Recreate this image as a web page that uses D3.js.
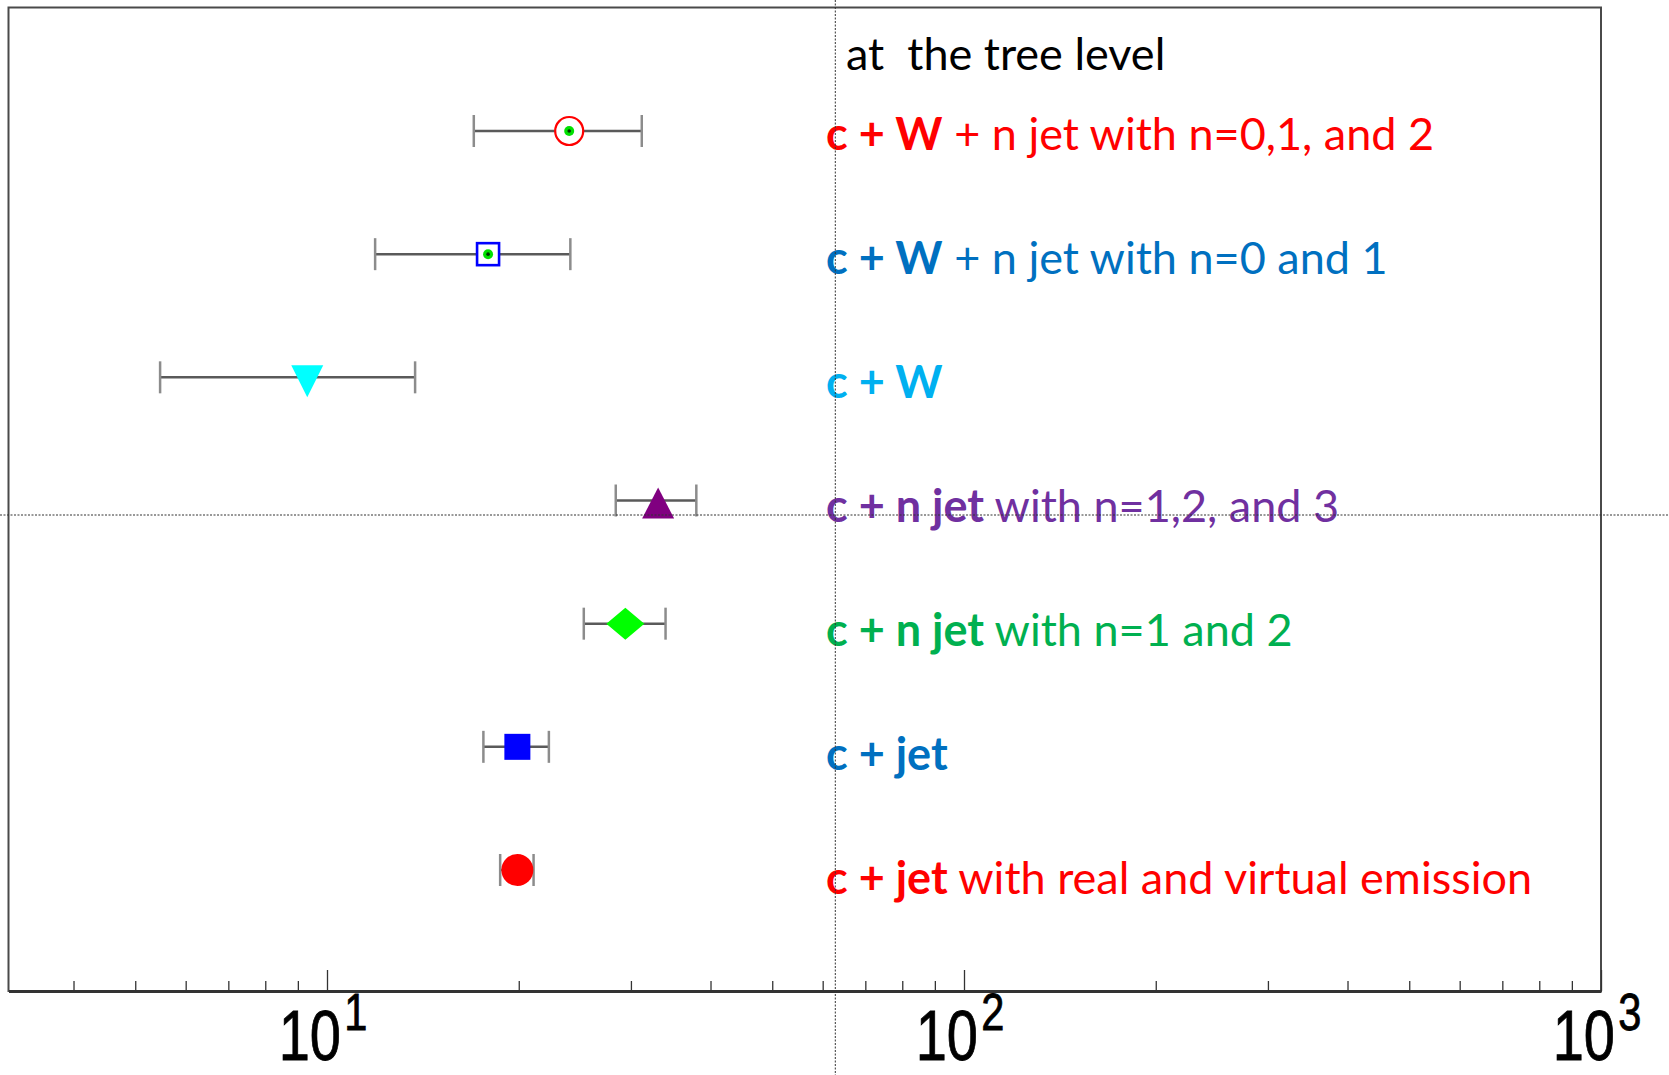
<!DOCTYPE html>
<html>
<head>
<meta charset="utf-8">
<script src="https://cdn.jsdelivr.net/npm/d3@7"></script>
<style>
  html, body { margin: 0; padding: 0; background: #fff; }
  svg { display: block; }
</style>
</head>
<body>
<svg id="chart" width="1669" height="1075"></svg>
<script>
// ---- data ----
const rowKeys = ["cW012", "cW01", "cW", "cn123", "cn12", "cjet", "cjetNLO"];
const centers = [24.0, 17.9, 9.31, 33.1, 29.4, 19.9, 19.9];
const lows    = [17.0, 11.9, 5.47, 28.4, 25.3, 17.6, 18.7];
const highs   = [31.2, 24.1, 13.75, 38.0, 34.0, 22.3, 21.1];
const markerShapes = ["circleOpen", "squareOpen", "triangleDown", "triangleUp", "diamond", "square", "circle"];
const markerColors = ["#ff0000", "#0000ff", "#00ffff", "#800080", "#00ff00", "#0000ff", "#ff0000"];
const labelBold = ["c + W", "c + W", "c + W", "c + n jet", "c + n jet", "c + jet", "c + jet"];
const labelRest = [" + n jet with n=0,1, and 2", " + n jet with n=0 and 1", "", " with n=1,2, and 3", " with n=1 and 2", "", " with real and virtual emission"];
const labelColors = ["#ff0000", "#0070c0", "#00b0f0", "#7030a0", "#00b050", "#0070c0", "#ff0000"];
const headerText = "at  the tree level";
const majorTicks = [10, 100, 1000];
const tickExponents = ["1", "2", "3"];
const minorTicks = [4, 5, 6, 7, 8, 9, 20, 30, 40, 50, 60, 70, 80, 90, 200, 300, 400, 500, 600, 700, 800, 900];
const xDomain = [Math.sqrt(10), 1000];
const crossX = 62.8;

// ---- layout ----
const W = 1669, H = 1075;
const box = { left: 8.5, right: 1601, top: 7.5, bottom: 991 };

const svg = d3.select("#chart");

const x = d3.scaleLog().domain(xDomain).range([box.left, box.right]);
const y = d3.scalePoint().domain(rowKeys).range([131, 870]);
const yLabel = d3.scalePoint().domain(rowKeys).range([150, 894]);

const rows = rowKeys.map((k, i) => ({
  key: k, c: centers[i], lo: lows[i], hi: highs[i],
  shape: markerShapes[i], color: markerColors[i],
  bold: labelBold[i], rest: labelRest[i], tcolor: labelColors[i]
}));

// frame
svg.append("rect")
  .attr("x", box.left).attr("y", box.top)
  .attr("width", box.right - box.left).attr("height", box.bottom - box.top)
  .attr("fill", "none").attr("stroke", "#4a4a4a").attr("stroke-width", 2);

// bottom axis with inward ticks
const allTicks = minorTicks.concat(majorTicks).sort((a, b) => a - b);
const axisG = svg.append("g").attr("transform", `translate(0,${box.bottom})`)
  .call(d3.axisBottom(x).tickValues(allTicks).tickSize(-10).tickSizeOuter(0).tickFormat(""));
axisG.select(".domain").attr("stroke", "#333").attr("stroke-width", 3);
axisG.selectAll(".tick line")
  .attr("stroke", "#333").attr("stroke-width", 1.3)
  .attr("y2", d => majorTicks.includes(d) ? -21 : -10);

// tick labels 10^n
majorTicks.forEach((v, i) => {
  const tx = x(v) - 4;
  const t = svg.append("text")
    .attr("transform", `translate(${tx},1060) scale(0.8,1)`)
    .attr("text-anchor", "middle")
    .attr("font-family", "'Liberation Sans', Arial, sans-serif")
    .attr("fill", "#000").attr("stroke", "#000").attr("stroke-width", 0.8);
  t.append("tspan").attr("font-size", 70).text("10");
  t.append("tspan").attr("font-size", 52).attr("dx", 4).attr("dy", -30).text(tickExponents[i]);
});

// error bars
const bars = svg.append("g");
rows.forEach(r => {
  const yy = y(r.key);
  bars.append("line").attr("x1", x(r.lo)).attr("x2", x(r.hi)).attr("y1", yy).attr("y2", yy)
    .attr("stroke", "#5a5a5a").attr("stroke-width", 2.5);
  [r.lo, r.hi].forEach(v => {
    bars.append("line").attr("x1", x(v)).attr("x2", x(v)).attr("y1", yy - 16).attr("y2", yy + 16)
      .attr("stroke", "#8c8c8c").attr("stroke-width", 2.5);
  });
});

// markers
const marks = svg.append("g");
rows.forEach(r => {
  const cx = x(r.c), cy = y(r.key);
  const g = marks.append("g");
  switch (r.shape) {
    case "circleOpen":
      g.append("circle").attr("cx", cx).attr("cy", cy).attr("r", 14)
        .attr("fill", "#fff").attr("stroke", r.color).attr("stroke-width", 2.2);
      break;
    case "squareOpen":
      g.append("rect").attr("x", cx - 11).attr("y", cy - 11).attr("width", 22).attr("height", 22)
        .attr("fill", "#fff").attr("stroke", r.color).attr("stroke-width", 2.6);
      break;
    case "triangleDown":
      g.append("path").attr("d", `M${cx - 16},${cy - 12}L${cx + 16},${cy - 12}L${cx},${cy + 20}Z`)
        .attr("fill", r.color);
      break;
    case "triangleUp":
      g.append("path").attr("d", `M${cx - 16},${cy + 18}L${cx + 16},${cy + 18}L${cx},${cy - 13}Z`)
        .attr("fill", r.color);
      break;
    case "diamond":
      g.append("path").attr("d", `M${cx - 19},${cy}L${cx},${cy - 16}L${cx + 19},${cy}L${cx},${cy + 16}Z`)
        .attr("fill", r.color);
      break;
    case "square":
      g.append("rect").attr("x", cx - 13).attr("y", cy - 13).attr("width", 26).attr("height", 26)
        .attr("fill", r.color);
      break;
    case "circle":
      g.append("circle").attr("cx", cx).attr("cy", cy).attr("r", 16).attr("fill", r.color);
      break;
  }
  if (r.shape === "circleOpen" || r.shape === "squareOpen") {
    g.append("circle").attr("cx", cx).attr("cy", cy).attr("r", 5).attr("fill", "#00e000");
    g.append("circle").attr("cx", cx).attr("cy", cy).attr("r", 1.8).attr("fill", "#003300");
  }
});

// labels
const labelFont = "Lato, 'Open Sans', sans-serif";
svg.append("text").attr("x", 846).attr("y", 70)
  .attr("font-family", labelFont).attr("font-size", 45).attr("fill", "#000")
  .style("white-space", "pre")
  .text(headerText);

const labels = svg.append("g");
rows.forEach(r => {
  const t = labels.append("text").attr("x", 826).attr("y", yLabel(r.key))
    .attr("font-family", labelFont).attr("font-size", 45).attr("fill", r.tcolor)
    .style("white-space", "pre");
  t.append("tspan").attr("font-weight", "bold").text(r.bold);
  if (r.rest) t.append("tspan").text(r.rest);
});

// crosshair guides
svg.append("line").attr("x1", x(crossX)).attr("x2", x(crossX)).attr("y1", 0).attr("y2", H)
  .attr("stroke", "#333").attr("stroke-width", 1).attr("stroke-dasharray", "2,1.5");
svg.append("line").attr("x1", 0).attr("x2", W).attr("y1", 515).attr("y2", 515)
  .attr("stroke", "#333").attr("stroke-width", 1).attr("stroke-dasharray", "2,1.5");
</script>
</body>
</html>
